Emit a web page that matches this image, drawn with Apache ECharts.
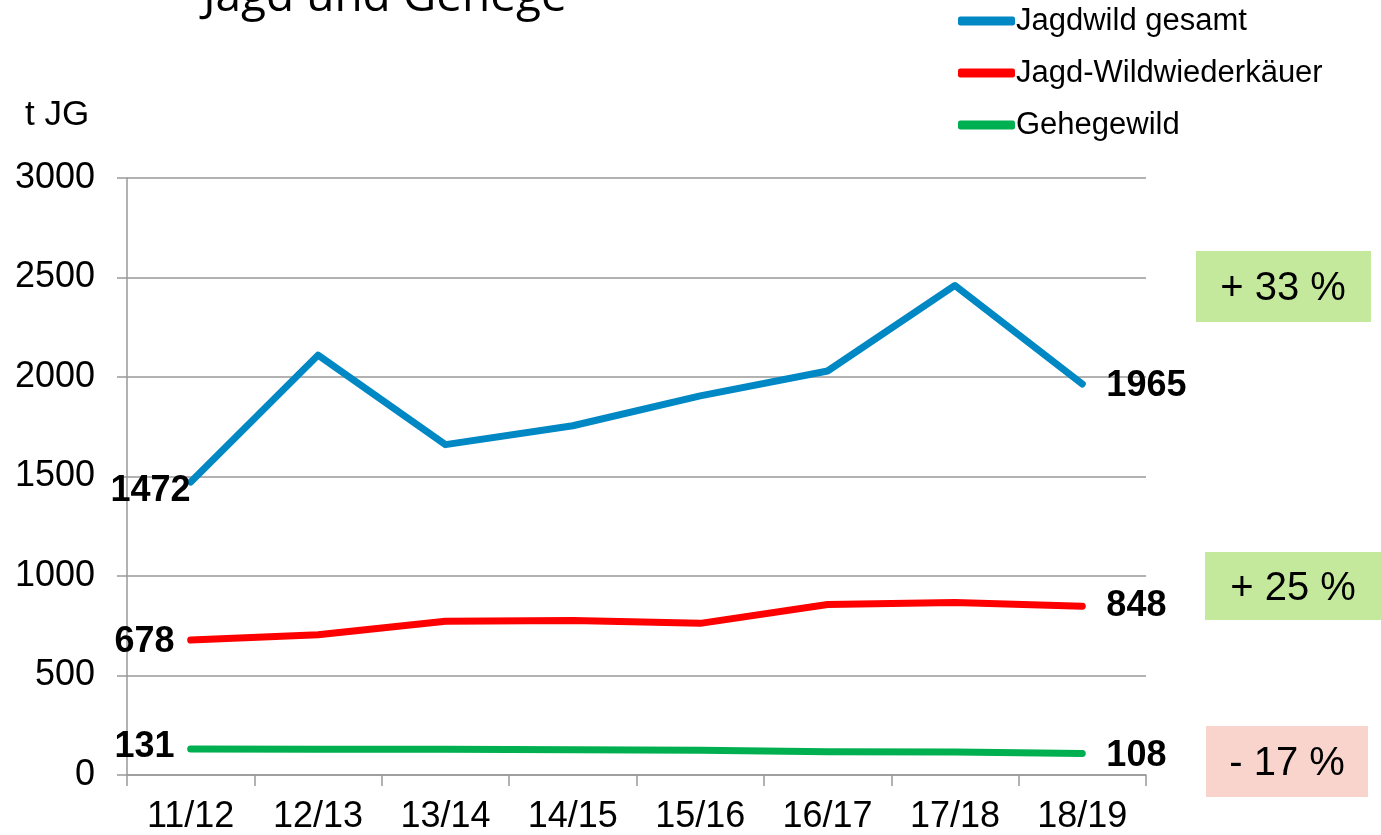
<!DOCTYPE html>
<html>
<head>
<meta charset="utf-8">
<script src="https://cdn.jsdelivr.net/npm/echarts@6/dist/echarts.min.js"></script>
<style>
html,body{margin:0;padding:0;background:#fff;}
#c{width:1381px;height:835px;}
</style>
</head>
<body>
<div id="c"></div>
<script>
const categories = ['11/12','12/13','13/14','14/15','15/16','16/17','17/18','18/19'];
const jagdwildGesamt = [1472, 2110, 1660, 1755, 1905, 2030, 2460, 1965];
const jagdWiederkaeuer = [678, 705, 773, 776, 762, 857, 867, 848];
const gehegewild = [131, 130, 130, 127, 125, 117, 115, 108];
const yTicks = {min: 0, max: 3000, interval: 500};
const changeLabels = ['+ 33 %', '+ 25 %', '- 17 %'];

const FONT = '"Liberation Sans", Arial, sans-serif';

function withEndLabels(values, firstLabel, lastLabel) {
  return values.map((v, i) => {
    if (i === 0) return {value: v, label: Object.assign({show: true}, firstLabel)};
    if (i === values.length - 1) return {value: v, label: Object.assign({show: true}, lastLabel)};
    return v;
  });
}

const labelBase = {fontFamily: FONT, fontSize: 36, fontWeight: 'bold', color: '#000'};

function lineSeries(name, color, values, first, last) {
  return {
    name: name, type: 'line', color: color,
    symbol: 'circle', symbolSize: 0.1, showSymbol: true,
    itemStyle: {color: color},
    lineStyle: {width: 7, cap: 'round', join: 'round'},
    label: {show: false},
    data: withEndLabels(values, Object.assign({}, labelBase, first), Object.assign({}, labelBase, last)),
    z: 3
  };
}

const chart = echarts.init(document.getElementById('c'), null, {renderer: 'canvas'});
chart.setOption({
  backgroundColor: '#fff',
  animation: false,
  grid: {left: 127, right: 235, top: 178, bottom: 59},
  legend: {
    orient: 'vertical',
    left: 953,
    top: -1,
    itemGap: 18,
    itemWidth: 57,
    itemHeight: 9,
    icon: 'roundRect',
    textStyle: {fontFamily: FONT, fontSize: 31, color: '#000', lineHeight: 34, padding: [0,0,0,-4]},
    data: ['Jagdwild gesamt', 'Jagd-Wildwiederkäuer', 'Gehegewild']
  },
  xAxis: {
    type: 'category',
    data: categories,
    boundaryGap: true,
    axisLine: {lineStyle: {color: '#999', width: 1.5}},
    axisTick: {show: true, length: 11, lineStyle: {color: '#999', width: 1.5}},
    axisLabel: {fontFamily: FONT, fontSize: 36, color: '#000', margin: 24}
  },
  yAxis: {
    type: 'value',
    min: yTicks.min, max: yTicks.max, interval: yTicks.interval,
    axisLine: {show: true, lineStyle: {color: '#999', width: 1.5}},
    axisTick: {show: true, length: 10, lineStyle: {color: '#999', width: 1.5}},
    splitLine: {lineStyle: {color: '#999', width: 1.5}},
    axisLabel: {fontFamily: FONT, fontSize: 36, color: '#000', margin: 32, formatter: v => String(v)}
  },
  series: [
    lineSeries('Jagdwild gesamt', '#0088C4', jagdwildGesamt,
      {position: 'left', distance: 0, offset: [0, 9]},
      {position: 'right', distance: 24, offset: [0, 2]}),
    lineSeries('Jagd-Wildwiederkäuer', '#FF0000', jagdWiederkaeuer,
      {position: 'left', distance: 16, offset: [0, 2]},
      {position: 'right', distance: 24, offset: [0, 0]}),
    lineSeries('Gehegewild', '#00B050', gehegewild,
      {position: 'left', distance: 16, offset: [0, -2]},
      {position: 'right', distance: 24, offset: [0, 3]})
  ],
  graphic: [
    {type: 'text', style: {text: 'Jagd und Gehege', font: '46px "Open Sans", Lato, sans-serif', fill: '#000', textAlign: 'center'}, position: [385, -25], silent: true, z: 10},
    {type: 'text', style: {text: 't JG', font: '35px ' + FONT, fill: '#000', textVerticalAlign: 'middle'}, position: [25, 115]},
    {type: 'group', position: [1196, 251], children: [
      {type: 'rect', shape: {x: 0, y: 0, width: 175, height: 71}, style: {fill: '#C5E99C'}},
      {type: 'text', style: {text: changeLabels[0], font: '40px ' + FONT, fill: '#000', textAlign: 'center', textVerticalAlign: 'middle'}, position: [87, 38]}
    ]},
    {type: 'group', position: [1205, 552], children: [
      {type: 'rect', shape: {x: 0, y: 0, width: 176, height: 68}, style: {fill: '#C5E99C'}},
      {type: 'text', style: {text: changeLabels[1], font: '40px ' + FONT, fill: '#000', textAlign: 'center', textVerticalAlign: 'middle'}, position: [88, 37]}
    ]},
    {type: 'group', position: [1206, 726], children: [
      {type: 'rect', shape: {x: 0, y: 0, width: 162, height: 71}, style: {fill: '#F8D4CD'}},
      {type: 'text', style: {text: changeLabels[2], font: '40px ' + FONT, fill: '#000', textAlign: 'center', textVerticalAlign: 'middle'}, position: [81, 38]}
    ]}
  ]
});
</script>
</body>
</html>
